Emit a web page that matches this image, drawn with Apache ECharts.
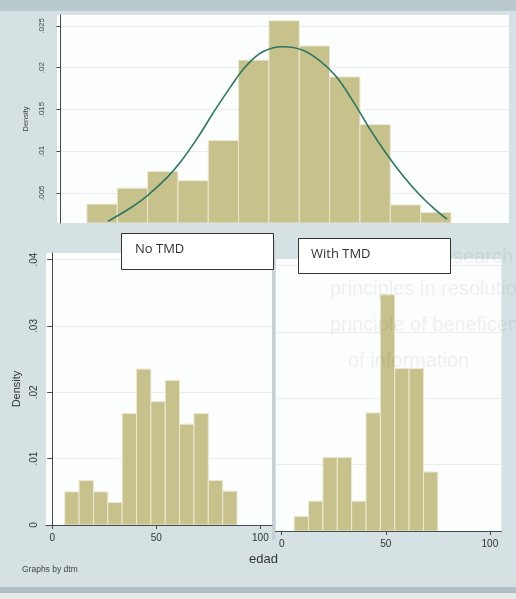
<!DOCTYPE html>
<html>
<head>
<meta charset="utf-8">
<script src="https://cdn.jsdelivr.net/npm/echarts@6/dist/echarts.min.js"></script>
<style>
  html, body { margin: 0; padding: 0; background: #d5e1e3; }
  #chart { width: 516px; height: 599px; }
</style>
</head>
<body>
<div id="chart"></div>
<script>
// histogram bins of edad (same bins in every graph)
const binStart = 6;
const binWidth = 6.9;

// top graph: all subjects, with normal curve
const allDensity = [0.0037, 0.0056, 0.0076, 0.0065, 0.0113, 0.0209, 0.0256, 0.0226, 0.0189, 0.0132, 0.0036, 0.0027];
const curveAge = [10.8, 15.8, 19.5, 24.1, 27.1, 30.9, 34.6, 38.4, 42.2, 46.0, 50.5, 55.1, 58.8, 62.6, 66.4, 70.2, 74.0, 77.7, 81.5, 85.3, 87.9];
const curveDensity = [0.00165, 0.0032, 0.0046, 0.0068, 0.0086, 0.0114, 0.0145, 0.0175, 0.0202, 0.0219, 0.0225, 0.0221, 0.0209, 0.019, 0.0161, 0.0128, 0.0098, 0.0072, 0.0049, 0.003, 0.0019];
const topTicks = [0.005, 0.01, 0.015, 0.02, 0.025];
const topTickLabels = ['.005', '.01', '.015', '.02', '.025'];

// bottom graphs by dtm
const panelNames = ['No TMD', 'With TMD'];
const noTmdDensity = [0.005, 0.0067, 0.005, 0.0034, 0.0168, 0.0235, 0.0186, 0.0218, 0.0152, 0.0168, 0.0067, 0.0051];
const withTmdDensity = [0.0022, 0.0045, 0.0111, 0.0111, 0.0045, 0.0178, 0.0356, 0.0245, 0.0245, 0.0089];
const panelTicks = [0, 0.01, 0.02, 0.03, 0.04];
const panelTickLabels = ['0', '.01', '.02', '.03', '.04'];
const xTicks = [0, 50, 100];

const barFill = '#c7c18b';
const barEdge = '#ebe9d4';
const axisColor = '#454a4c';
const gridColor = '#e9eded';
const font = 'Liberation Sans';
const ghost = 'rgba(70,80,85,0.08)';

function toBins(dens) {
  return dens.map((d, i) => [binStart + i * binWidth, binStart + (i + 1) * binWidth, d]);
}

function renderBar(params, api) {
  const a = api.coord([api.value(0), api.value(2)]);
  const b = api.coord([api.value(1), 0]);
  const cs = params.coordSys;
  const bottom = Math.min(b[1], cs.y + cs.height);
  return {
    type: 'rect',
    shape: { x: a[0], y: a[1], width: b[0] - a[0], height: bottom - a[1] },
    style: { fill: barFill, stroke: barEdge, lineWidth: 1 }
  };
}

function histSeries(dens, idx) {
  return {
    type: 'custom',
    xAxisIndex: idx,
    yAxisIndex: idx,
    clip: true,
    renderItem: renderBar,
    encode: { x: [0, 1], y: 2 },
    data: toBins(dens),
    silent: true
  };
}

function panelY(idx, showAxis) {
  return {
    gridIndex: idx,
    type: 'value',
    min: 0,
    max: 0.041,
    axisLine: { show: showAxis, lineStyle: { color: axisColor, width: 1 } },
    axisTick: { show: showAxis, length: 5, customValues: panelTicks, lineStyle: { color: axisColor } },
    axisLabel: {
      show: showAxis,
      customValues: panelTicks,
      rotate: 90,
      margin: 7,
      fontSize: 10,
      fontFamily: font,
      color: '#333',
      formatter: v => panelTickLabels[panelTicks.indexOf(v)]
    },
    splitLine: { show: true, lineStyle: { color: gridColor, width: 1 } },
    name: showAxis ? 'Density' : '',
    nameLocation: 'middle',
    nameRotate: 90,
    nameGap: 24,
    nameTextStyle: { fontSize: 11, fontFamily: font, color: '#333' }
  };
}

function panelX(idx) {
  return {
    gridIndex: idx,
    type: 'value',
    min: -3,
    max: 105.6,
    axisLine: { show: true, lineStyle: { color: axisColor, width: 1 } },
    axisTick: { show: true, length: 4, customValues: xTicks, lineStyle: { color: axisColor } },
    axisLabel: { customValues: xTicks, margin: 8, fontSize: 10, fontFamily: font, color: '#333' },
    splitLine: { show: false }
  };
}

const chart = echarts.init(document.getElementById('chart'));

chart.setOption({
  backgroundColor: '#d5e1e3',
  animation: false,
  grid: [
    { left: 57, top: 15, width: 452, height: 208, show: true, backgroundColor: '#fcfdfd', borderWidth: 0, outerBoundsMode: 'none' },
    { left: 46, top: 253, width: 226, height: 272, show: true, backgroundColor: '#fcfdfd', borderWidth: 0, outerBoundsMode: 'none' },
    { left: 275.5, top: 259, width: 226, height: 272, show: true, backgroundColor: '#fcfdfd', borderWidth: 0, outerBoundsMode: 'none' }
  ],
  xAxis: [
    { gridIndex: 0, type: 'value', min: -0.8, max: 102, show: false },
    panelX(1),
    panelX(2)
  ],
  yAxis: [
    {
      gridIndex: 0,
      type: 'value',
      min: 0.00144,
      max: 0.0263,
      axisLine: { show: true, lineStyle: { color: axisColor, width: 1 } },
      axisTick: { show: true, length: 4, customValues: topTicks, lineStyle: { color: axisColor } },
      axisLabel: {
        customValues: topTicks,
        rotate: 90,
        margin: 11,
        fontSize: 8,
        fontFamily: font,
        color: '#444',
        formatter: v => topTickLabels[topTicks.indexOf(v)]
      },
      splitLine: { show: true, lineStyle: { color: gridColor, width: 1 } },
      name: 'Density',
      nameLocation: 'middle',
      nameRotate: 90,
      nameGap: 25,
      nameTextStyle: { fontSize: 7.5, fontFamily: font, color: '#444' }
    },
    panelY(1, true),
    panelY(2, false)
  ],
  series: [
    histSeries(allDensity, 0),
    {
      type: 'line',
      xAxisIndex: 0,
      yAxisIndex: 0,
      smooth: 0.4,
      showSymbol: false,
      clip: true,
      silent: true,
      lineStyle: { color: '#2c7862', width: 1.6 },
      data: curveAge.map((a, i) => [a, curveDensity[i]]),
      z: 3
    },
    histSeries(noTmdDensity, 1),
    histSeries(withTmdDensity, 2)
  ],
  graphic: [
    // photo bands round the page
    { type: 'rect', shape: { x: 0, y: 0, width: 516, height: 11 }, style: { fill: '#b9c9cd' }, z: 0 },
    { type: 'rect', shape: { x: 0, y: 587, width: 516, height: 6 }, style: { fill: '#b2bfc2' }, z: 0 },
    { type: 'rect', shape: { x: 0, y: 593, width: 516, height: 6 }, style: { fill: '#e4e9e9' }, z: 0 },
    { type: 'rect', shape: { x: 272, y: 240, width: 3.5, height: 300 }, style: { fill: '#c5d3d6' }, z: 0 },
    // faint text showing through the paper
    { type: 'text', left: 392, top: 247, style: { text: 'This research', font: '20px "Liberation Sans"', fill: ghost }, z: 4 },
    { type: 'text', left: 330, top: 279, style: { text: 'principles in resolution 1993', font: '20px "Liberation Sans"', fill: ghost }, z: 4 },
    { type: 'text', left: 330, top: 315, style: { text: 'principle of beneficence, non', font: '20px "Liberation Sans"', fill: ghost }, z: 4 },
    { type: 'text', left: 348, top: 351, style: { text: 'of information', font: '20px "Liberation Sans"', fill: ghost }, z: 4 },
    // panel headers
    { type: 'rect', shape: { x: 121.5, y: 233.5, width: 152, height: 36 }, style: { fill: '#ffffff', stroke: '#333', lineWidth: 1 }, z: 10 },
    { type: 'text', left: 135, top: 243, style: { text: panelNames[0], font: '13px "Open Sans"', fill: '#333' }, z: 11 },
    { type: 'rect', shape: { x: 298.5, y: 238.5, width: 152, height: 35 }, style: { fill: '#ffffff', stroke: '#333', lineWidth: 1 }, z: 10 },
    { type: 'text', left: 311, top: 248, style: { text: panelNames[1], font: '13px "Open Sans"', fill: '#333' }, z: 11 },
    // shared axis title and note
    { type: 'text', left: 249, top: 553, style: { text: 'edad', font: '13px "Liberation Sans"', fill: '#333' }, z: 10 },
    { type: 'text', left: 22, top: 565, style: { text: 'Graphs by dtm', font: '8.5px "Liberation Sans"', fill: '#444' }, z: 10 }
  ]
});
</script>
</body>
</html>
